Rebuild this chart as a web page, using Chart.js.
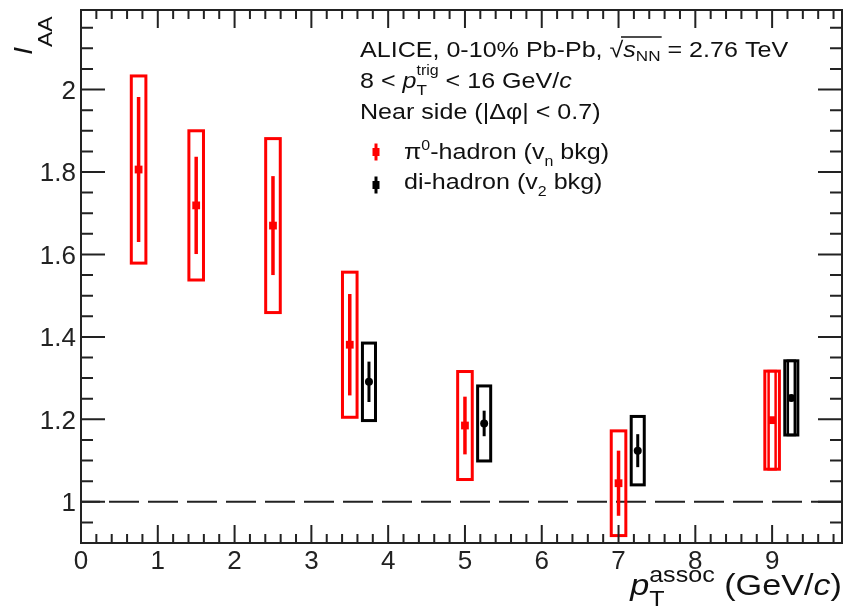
<!DOCTYPE html>
<html>
<head>
<meta charset="utf-8">
<script src="https://cdn.jsdelivr.net/npm/chart.js@4.4.1/dist/chart.umd.min.js"></script>
<style>
  html, body { margin: 0; padding: 0; background: #fff; }
  #wrap { width: 853px; height: 613px; }
</style>
</head>
<body>
<div id="wrap"><canvas id="iaaChart" width="853" height="613"></canvas></div>
<script>
// near-side IAA, 0-10% Pb-Pb
const pi0Pt = [0.75, 1.5, 2.5, 3.5, 5, 7, 9];
const pi0Iaa = [1.806, 1.719, 1.670, 1.381, 1.185, 1.045, 1.198];
const pi0Stat = [0.176, 0.118, 0.120, 0.123, 0.070, 0.079, 0.119];
const pi0Sys = [0.227, 0.181, 0.211, 0.176, 0.131, 0.127, 0.119];

const hhPt = [3.75, 5.25, 7.25, 9.25];
const hhIaa = [1.291, 1.190, 1.124, 1.252];
const hhStat = [0.049, 0.031, 0.040, 0.090];
const hhSys = [0.094, 0.091, 0.083, 0.090];

const xTicks = [0, 1, 2, 3, 4, 5, 6, 7, 8, 9];
const xTickLabels = ["0", "1", "2", "3", "4", "5", "6", "7", "8", "9"];
const yTicks = [1, 1.2, 1.4, 1.6, 1.8, 2];
const yTickLabels = ["1", "1.2", "1.4", "1.6", "1.8", "2"];
const unityLine = 1;

const FAMILY = "'Liberation Sans', Arial, sans-serif";
const INK = "#111";
const SX = 1.14; // the figure is a bit stretched sideways

function font(p) {
  return (p.i ? "italic " : "") + (p.s || 22) + "px " + FAMILY;
}

// draws a run of text pieces; a piece with "stack" holds two pieces on the same x
function richText(ctx, x, y, parts, stretch) {
  ctx.save();
  ctx.translate(x, y);
  ctx.scale(stretch, 1);
  ctx.fillStyle = INK;
  ctx.textBaseline = "alphabetic";
  ctx.textAlign = "left";
  let cx = 0;
  let overStart = null;
  parts.forEach(p => {
    const group = p.stack || [p];
    let w = 0;
    group.forEach(g => {
      ctx.font = font(g);
      ctx.fillText(g.t, cx, g.dy || 0);
      w = Math.max(w, ctx.measureText(g.t).width);
    });
    if (p.over && overStart === null) overStart = cx;
    cx += w;
    if (p.overEnd) {
      ctx.lineWidth = 1.4;
      ctx.strokeStyle = INK;
      ctx.beginPath();
      ctx.moveTo(overStart - 2, -20);
      ctx.lineTo(cx + 1, -20);
      ctx.stroke();
    }
  });
  ctx.restore();
  return cx * stretch;
}

function runWidth(ctx, parts, stretch) {
  ctx.save();
  let w = 0;
  parts.forEach(p => {
    const group = p.stack || [p];
    let m = 0;
    group.forEach(g => { ctx.font = font(g); m = Math.max(m, ctx.measureText(g.t).width); });
    w += m;
  });
  ctx.restore();
  return w * stretch;
}

function drawSeries(ctx, xs, ys, px, py, stat, sys, colour, halfW, barW) {
  ctx.save();
  ctx.strokeStyle = colour;
  px.forEach((p, i) => {
    const l = xs.getPixelForValue(p - halfW);
    const r = xs.getPixelForValue(p + halfW);
    const t = ys.getPixelForValue(py[i] + sys[i]);
    const b = ys.getPixelForValue(py[i] - sys[i]);
    ctx.lineWidth = 3;
    ctx.strokeRect(l, t, r - l, b - t);

    const cx = xs.getPixelForValue(p);
    const st = ys.getPixelForValue(py[i] + stat[i]);
    const sb = ys.getPixelForValue(py[i] - stat[i]);
    if (stat[i] >= sys[i]) {
      // stat bar as tall as the box: drawn as a hollow inner outline
      ctx.lineWidth = 2.5;
      ctx.strokeRect(cx - 3.5, st, 7, sb - st);
    } else {
      ctx.lineWidth = barW;
      ctx.beginPath();
      ctx.moveTo(cx, st);
      ctx.lineTo(cx, sb);
      ctx.stroke();
    }
  });
  ctx.restore();
}

const rootPlot = {
  id: "rootPlot",
  beforeDatasetsDraw(chart) {
    const { ctx, chartArea: a, scales: { x, y } } = chart;
    const yy = y.getPixelForValue(unityLine);
    ctx.save();
    ctx.strokeStyle = "#222";
    ctx.lineWidth = 2;
    ctx.setLineDash([30, 9]);
    ctx.lineDashOffset = 11;
    ctx.beginPath();
    ctx.moveTo(a.left, yy);
    ctx.lineTo(a.right, yy);
    ctx.stroke();
    ctx.restore();

    drawSeries(ctx, x, y, pi0Pt, pi0Iaa, pi0Stat, pi0Sys, "#ff0000", 0.095, 3.5);
    drawSeries(ctx, x, y, hhPt, hhIaa, hhStat, hhSys, "#000000", 0.085, 3);
  },
  afterDraw(chart) {
    const { ctx, chartArea: a, scales: { x, y } } = chart;
    ctx.save();
    ctx.strokeStyle = "#222";
    ctx.lineWidth = 2;
    ctx.strokeRect(a.left, a.top, a.right - a.left, a.bottom - a.top);

    // ROOT style ticks, pointing inward on all four sides
    ctx.beginPath();
    for (let k = 19; k * 0.05 < y.max - 0.01; k++) {
      const py = y.getPixelForValue(k * 0.05);
      const len = k % 4 === 0 ? 24 : 12;
      ctx.moveTo(a.left, py); ctx.lineTo(a.left + len, py);
      ctx.moveTo(a.right, py); ctx.lineTo(a.right - len, py);
    }
    for (let k = 1; k * 0.2 < x.max - 0.01; k++) {
      const px = x.getPixelForValue(k * 0.2);
      const len = k % 5 === 0 ? 18 : 9;
      ctx.moveTo(px, a.bottom); ctx.lineTo(px, a.bottom - len);
      ctx.moveTo(px, a.top); ctx.lineTo(px, a.top + len);
    }
    ctx.stroke();
    ctx.restore();

    // header
    richText(ctx, 360, 57, [
      { t: "ALICE, 0-10% Pb-Pb, " },
      { t: "\u221A" },
      { t: "s", i: true, over: true },
      { t: "NN", s: 15, dy: 4, overEnd: true },
      { t: " = 2.76 TeV" }
    ], SX);
    richText(ctx, 360, 87.5, [
      { t: "8 < " },
      { t: "p", i: true },
      { stack: [{ t: "T", s: 15, dy: 7 }, { t: "trig", s: 14, dy: -13 }] },
      { t: " < 16 GeV/" },
      { t: "c", i: true }
    ], SX);
    richText(ctx, 360, 119, [{ t: "Near side (|\u0394\u03C6| < 0.7)" }], SX);

    // legend
    const legendRows = [
      { colour: "#ff0000", y: 152, base: 159, parts: [
        { t: "\u03C0" }, { t: "0", s: 14, dy: -9 }, { t: "-hadron (v" },
        { t: "n", s: 14, dy: 7 }, { t: " bkg)" }] },
      { colour: "#000000", y: 185, base: 188.5, parts: [
        { t: "di-hadron (v" }, { t: "2", s: 14, dy: 7 }, { t: " bkg)" }] }
    ];
    legendRows.forEach(row => {
      ctx.save();
      ctx.strokeStyle = row.colour;
      ctx.fillStyle = row.colour;
      ctx.lineWidth = 3;
      ctx.beginPath();
      ctx.moveTo(376, row.y - 8.5);
      ctx.lineTo(376, row.y + 8.5);
      ctx.stroke();
      ctx.fillRect(372.5, row.y - 4, 7, 8);
      ctx.restore();
      richText(ctx, 404, row.base, row.parts, SX);
    });

    // x title, right aligned on the frame
    const xTitle = [
      { t: "p", i: true, s: 30 },
      { stack: [{ t: "T", s: 22, dy: 11 }, { t: "assoc", s: 22, dy: -13 }] },
      { t: " (GeV/", s: 30 },
      { t: "c", i: true, s: 30 },
      { t: ")", s: 30 }
    ];
    const w = runWidth(ctx, xTitle, SX);
    richText(ctx, a.right - w, 595, xTitle, SX);

    // y title, rotated
    ctx.save();
    ctx.translate(32, 55);
    ctx.rotate(-Math.PI / 2);
    richText(ctx, 0, 0, [{ t: "I", i: true, s: 26 }, { t: "AA", s: 21, dy: 20 }], 1.1);
    ctx.restore();
  }
};

const tickFont = { family: FAMILY, size: 26 };

new Chart(document.getElementById("iaaChart"), {
  type: "scatter",
  data: {
    datasets: [
      {
        label: "\u03C0\u2070-hadron (vn bkg)",
        data: pi0Pt.map((v, i) => ({ x: v, y: pi0Iaa[i] })),
        pointStyle: "rect",
        pointRadius: 5.5,
        backgroundColor: "#ff0000",
        borderWidth: 0
      },
      {
        label: "di-hadron (v2 bkg)",
        data: hhPt.map((v, i) => ({ x: v, y: hhIaa[i] })),
        pointStyle: "circle",
        pointRadius: 4,
        backgroundColor: "#000000",
        borderWidth: 0
      }
    ]
  },
  options: {
    responsive: false,
    animation: false,
    devicePixelRatio: 1,
    layout: { padding: { top: 10, right: 11, left: 0, bottom: 0 } },
    plugins: { legend: { display: false }, tooltip: { enabled: false } },
    scales: {
      x: {
        type: "linear",
        min: 0,
        max: 9.91,
        grid: { display: false, drawTicks: false },
        border: { display: false },
        afterBuildTicks: s => { s.ticks = xTicks.map(v => ({ value: v })); },
        afterFit: s => { s.height = 70; s.paddingLeft = 0; s.paddingRight = 0; },
        ticks: {
          callback: (v, i) => xTickLabels[i],
          font: tickFont,
          color: "#222",
          padding: 3,
          maxRotation: 0,
          autoSkip: false
        }
      },
      y: {
        type: "linear",
        min: 0.9,
        max: 2.193,
        grid: { display: false, drawTicks: false },
        border: { display: false },
        afterBuildTicks: s => { s.ticks = yTicks.map(v => ({ value: v })); },
        afterFit: s => { s.width = 81; s.paddingTop = 0; s.paddingBottom = 0; },
        ticks: {
          callback: (v, i) => yTickLabels[i],
          font: tickFont,
          color: "#222",
          padding: 5,
          labelOffset: 2,
          autoSkip: false
        }
      }
    }
  },
  plugins: [rootPlot]
});
</script>
</body>
</html>
